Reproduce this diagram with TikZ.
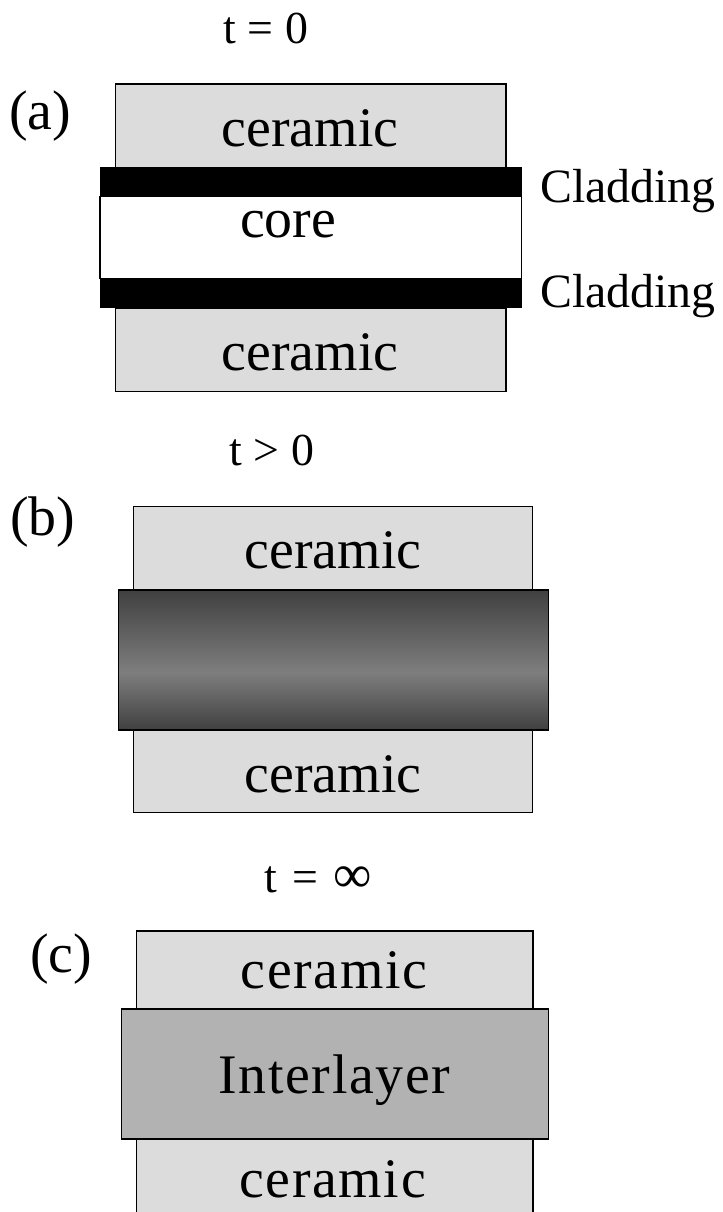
\documentclass[tikz,border=0pt]{standalone}
\usepackage{fontspec}
\setmainfont{Liberation Serif}
\newfontfamily\spacedfont[LetterSpace=3]{Liberation Serif}
\newfontfamily\widefont[LetterSpace=8]{Liberation Serif}
\definecolor{ceramicgray}{HTML}{DCDCDC}
\definecolor{intergray}{HTML}{B2B2B2}
\definecolor{graddark}{HTML}{404040}
\definecolor{gradlight}{HTML}{7E7E7E}
\begin{document}
\begin{tikzpicture}[x=1bp,y=-1bp,
  ceramicbox/.style={draw=black,line width=1.5bp,fill=ceramicgray},
  cladbar/.style={fill=black},
  corebox/.style={draw=black,line width=1.5bp,fill=white},
  interbox/.style={draw=black,line width=1.5bp,fill=intergray},
  big/.style={anchor=base,inner sep=0pt,font=\fontsize{56}{60}\selectfont},
  bigsp/.style={anchor=base,inner sep=0pt,font=\fontsize{56}{60}\spacedfont},
  mid/.style={anchor=base,inner sep=0pt,font=\fontsize{48}{56}\selectfont},
  timelbl/.style={anchor=base,inner sep=0pt,font=\fontsize{46}{52}\selectfont},
  panellbl/.style={anchor=base west,inner sep=0pt,font=\fontsize{56}{60}\selectfont}]
\useasboundingbox (0,0) rectangle (723,1212);
\clip (0,0) rectangle (723,1212);

% ---------- panel (a) ----------
\node[timelbl] (ta) at (266,43) {t = 0};
\node[panellbl] (la) at (9,129) {(a)};
\draw[ceramicbox] (115.7,84) rectangle (506,168);
\draw[ceramicbox] (115.7,308) rectangle (506,391.7);
\draw[corebox] (100,196.7) rectangle (521.7,278.3);
\fill[cladbar] (100,167.3) rectangle (521.7,196.7);
\fill[cladbar] (100,278.3) rectangle (521.7,308.3);
\node[big] (ca1) at (310,146) {ceramic};
\node[big] (core) at (288,237) {core};
\node[big] (ca2) at (310,370) {ceramic};
\node[mid,anchor=base west] (clad1) at (540,202) {Cladding};
\node[mid,anchor=base west] (clad2) at (540,307) {Cladding};

% ---------- panel (b) ----------
\node[timelbl] (tb) at (272,465) {t > 0};
\node[panellbl] (lb) at (10,535) {(b)};
\draw[ceramicbox] (133.3,506.7) rectangle (532.3,590);
\draw[ceramicbox] (133.3,730) rectangle (532.3,812.7);
\shade[top color=graddark,bottom color=gradlight] (118.3,590) rectangle (548.3,672.5);
\shade[top color=gradlight,bottom color=graddark] (118.3,672) rectangle (548.3,730);
\draw[black,line width=1.5bp] (118.3,590) rectangle (548.3,730);
\node[big] (cb1) at (333,568) {ceramic};
\node[big] (cb2) at (333,792) {ceramic};

% ---------- panel (c) ----------
\node[anchor=base,inner sep=0pt,font=\fontsize{46}{52}\widefont] (tc) at (318,892) {t = {\fontsize{54}{52}\selectfont ∞}};
\node[panellbl] (lc) at (30,972) {(c)};
\draw[ceramicbox] (136.7,931) rectangle (533,1009);
\draw[ceramicbox] (136.7,1139) rectangle (533,1230);
\draw[interbox] (121.5,1009) rectangle (548.5,1139);
\node[bigsp] (cc1) at (334,988) {ceramic};
\node[bigsp] (inter) at (334.5,1093) {Interlayer};
\node[bigsp] (cc2) at (332.5,1197) {ceramic};
\end{tikzpicture}
\end{document}
